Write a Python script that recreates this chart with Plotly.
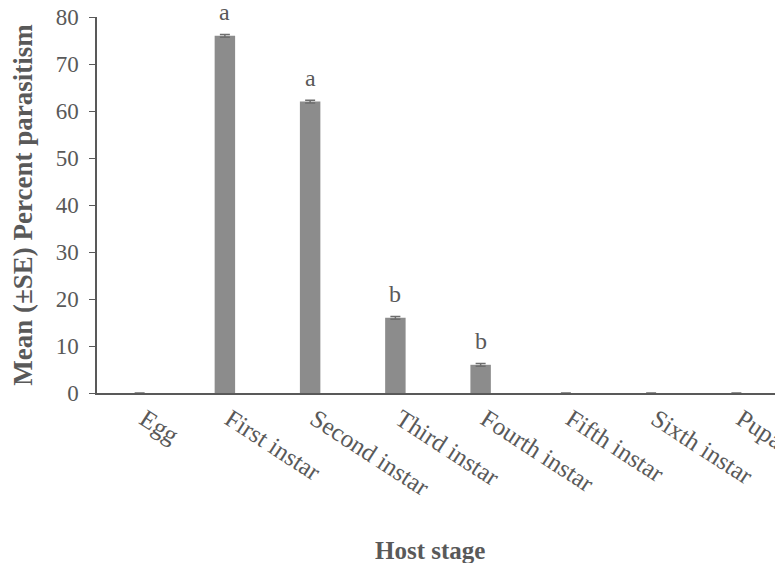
import plotly.graph_objects as go

categories = ["Egg", "First instar", "Second instar", "Third instar", "Fourth instar",
              "Fifth instar", "Sixth instar", "Pupa"]
means = [0, 76, 62, 16, 6, 0, 0, 0]
se = [0, 0.3, 0.3, 0.3, 0.3, 0, 0, 0]
letters = ["", "a", "a", "b", "b", "", "", ""]

font_family = "Liberation Serif, Times New Roman, serif"
gray_text = "#595959"

fig = go.Figure()
fig.add_trace(go.Bar(
    x=categories, y=means,
    marker=dict(color="#8c8c8c", line=dict(width=0)),
    width=0.24,
    error_y=dict(type="data", array=se, visible=True, color="#6e6e6e", thickness=1.5, width=5),
    showlegend=False,
))

for c, v, l in zip(categories, means, letters):
    if l:
        fig.add_annotation(x=c, y=v, text=l, showarrow=False, yshift=24,
                           font=dict(family=font_family, size=24, color=gray_text))

# x-axis title placed as an annotation to match the reference position
fig.add_annotation(xref="paper", yref="paper", x=0.488, y=0, yanchor="middle",
                   yshift=-157, showarrow=False, text="<b>Host stage</b>",
                   font=dict(family=font_family, size=25, color=gray_text))

fig.update_layout(
    width=775, height=555,
    margin=dict(l=89, r=4, t=9, b=170),
    plot_bgcolor="white", paper_bgcolor="white",
    font=dict(family=font_family, color=gray_text),
    xaxis=dict(
        tickangle=33, tickfont=dict(size=25, color=gray_text),
        showline=True, linecolor="#595959", linewidth=1.5,
        ticks="", showgrid=False, automargin=False,
        ticklabelshift=5, ticklabeloverflow="allow",
    ),
    yaxis=dict(
        range=[0, 80], dtick=10, tickfont=dict(size=23, color=gray_text),
        showline=True, linecolor="#595959", linewidth=1.5, automargin=False,
        ticks="outside", ticklen=6, tickcolor="#595959", showgrid=False, zeroline=False,
        ticklabelstandoff=6, ticklabeloverflow="allow",
        title=dict(text="<b>Mean (±SE) Percent parasitism</b>", font=dict(size=27, color=gray_text), standoff=24),
    ),
)

fig.write_html("out.html")
